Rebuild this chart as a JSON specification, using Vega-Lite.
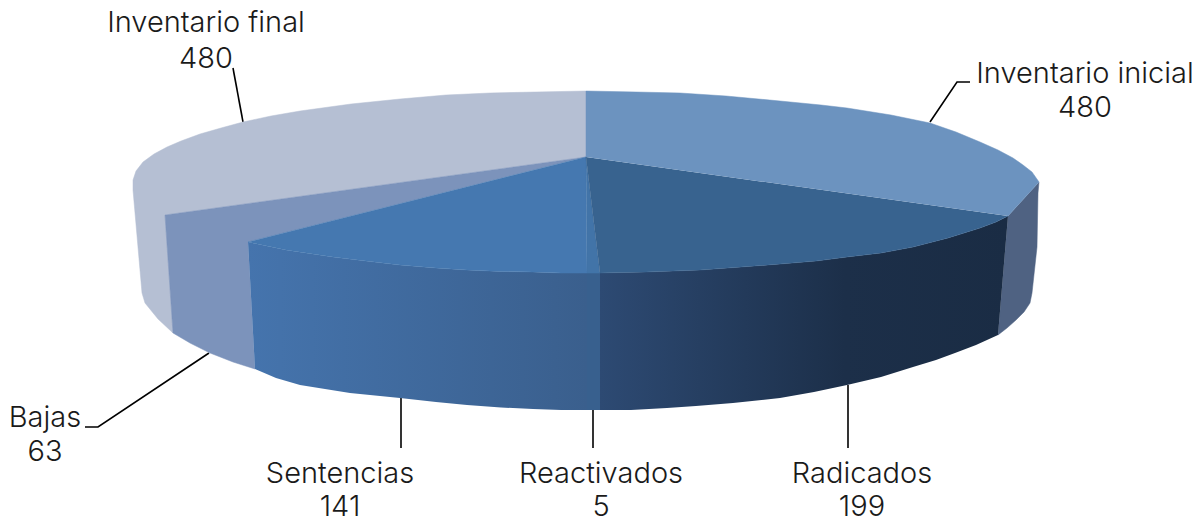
{
"$schema":"https://vega.github.io/schema/vega-lite/v6.json",
"width":1202,"height":522,"padding":0,"autosize":{"type":"none"},
"background":"white",
"config":{"view":{"stroke":null}},
"datasets":{
"slices":[
{"slice":"Inventario inicial","value":480,"xc":499,"yName":-99,"yValue":-65},
{"slice":"Radicados","value":199,"xc":276,"yName":301,"yValue":334},
{"slice":"Reactivados","value":5,"xc":15,"yName":301,"yValue":334},
{"slice":"Sentencias","value":141,"xc":-246,"yName":301,"yValue":334},
{"slice":"Bajas","value":63,"xc":-541,"yName":245,"yValue":279},
{"slice":"Inventario final","value":480,"xc":-380,"yName":-150,"yValue":-114}
],
"leaders":[
{"slice":"Inventario final","i":0,"x":-353,"y":-114},{"slice":"Inventario final","i":1,"x":-343,"y":-60},
{"slice":"Inventario inicial","i":0,"x":384,"y":-100},{"slice":"Inventario inicial","i":1,"x":371,"y":-100},{"slice":"Inventario inicial","i":2,"x":344,"y":-60},
{"slice":"Bajas","i":0,"x":-501,"y":245},{"slice":"Bajas","i":1,"x":-488,"y":245},{"slice":"Bajas","i":2,"x":-377,"y":171},
{"slice":"Sentencias","i":0,"x":-185,"y":216},{"slice":"Sentencias","i":1,"x":-185,"y":266},
{"slice":"Reactivados","i":0,"x":7,"y":227},{"slice":"Reactivados","i":1,"x":7,"y":266},
{"slice":"Radicados","i":0,"x":262,"y":203},{"slice":"Radicados","i":1,"x":262,"y":266}
],
"outline":[
{"part":"finalFace","i":0,"x":0,"y":-25},{"part":"finalFace","i":1,"x":0,"y":-91},{"part":"finalFace","i":2,"x":-50,"y":-90},{"part":"finalFace","i":3,"x":-96,"y":-89},{"part":"finalFace","i":4,"x":-140,"y":-87},{"part":"finalFace","i":5,"x":-186,"y":-83},{"part":"finalFace","i":6,"x":-235,"y":-78},{"part":"finalFace","i":7,"x":-286,"y":-71},{"part":"finalFace","i":8,"x":-315,"y":-66},{"part":"finalFace","i":9,"x":-343,"y":-60},{"part":"finalFace","i":10,"x":-365,"y":-54},{"part":"finalFace","i":11,"x":-386,"y":-48},{"part":"finalFace","i":12,"x":-405,"y":-41},{"part":"finalFace","i":13,"x":-419,"y":-35},{"part":"finalFace","i":14,"x":-432,"y":-28},{"part":"finalFace","i":15,"x":-443,"y":-20},{"part":"finalFace","i":16,"x":-450,"y":-11},{"part":"finalFace","i":17,"x":-453,"y":-2},{"part":"finalFace","i":18,"x":-453,"y":8},{"part":"finalFace","i":19,"x":-444,"y":111},{"part":"finalFace","i":20,"x":-441,"y":121},{"part":"finalFace","i":21,"x":-428,"y":137},{"part":"finalFace","i":22,"x":-413,"y":151},{"part":"finalFace","i":23,"x":-421,"y":33},
{"part":"bajas","i":0,"x":0,"y":-25},{"part":"bajas","i":1,"x":-421,"y":33},{"part":"bajas","i":2,"x":-413,"y":151},{"part":"bajas","i":3,"x":-396,"y":161},{"part":"bajas","i":4,"x":-376,"y":171},{"part":"bajas","i":5,"x":-353,"y":180},{"part":"bajas","i":6,"x":-331,"y":187},{"part":"bajas","i":7,"x":-338,"y":60},
{"part":"sentWall","i":0,"x":-338,"y":60},{"part":"sentWall","i":1,"x":-300,"y":68},{"part":"sentWall","i":2,"x":-253,"y":75},{"part":"sentWall","i":3,"x":-220,"y":79},{"part":"sentWall","i":4,"x":-186,"y":83},{"part":"sentWall","i":5,"x":-150,"y":86},{"part":"sentWall","i":6,"x":-119,"y":88},{"part":"sentWall","i":7,"x":-85,"y":89.5},{"part":"sentWall","i":8,"x":-53,"y":90},{"part":"sentWall","i":9,"x":-25,"y":91},{"part":"sentWall","i":10,"x":1,"y":91},{"part":"sentWall","i":11,"x":1,"y":228},{"part":"sentWall","i":12,"x":-25,"y":228},{"part":"sentWall","i":13,"x":-53,"y":227},{"part":"sentWall","i":14,"x":-85,"y":225.5},{"part":"sentWall","i":15,"x":-119,"y":223},{"part":"sentWall","i":16,"x":-150,"y":220},{"part":"sentWall","i":17,"x":-186,"y":216},{"part":"sentWall","i":18,"x":-236,"y":211},{"part":"sentWall","i":19,"x":-286,"y":203},{"part":"sentWall","i":20,"x":-310,"y":196},{"part":"sentWall","i":21,"x":-331,"y":187},
{"part":"sentFace","i":0,"x":0,"y":-25},{"part":"sentFace","i":1,"x":-338,"y":60},{"part":"sentFace","i":2,"x":-300,"y":68},{"part":"sentFace","i":3,"x":-253,"y":75},{"part":"sentFace","i":4,"x":-220,"y":79},{"part":"sentFace","i":5,"x":-186,"y":83},{"part":"sentFace","i":6,"x":-150,"y":86},{"part":"sentFace","i":7,"x":-119,"y":88},{"part":"sentFace","i":8,"x":-85,"y":89.5},{"part":"sentFace","i":9,"x":-53,"y":90},{"part":"sentFace","i":10,"x":-25,"y":91},{"part":"sentFace","i":11,"x":1,"y":91},
{"part":"reacWall","i":0,"x":1,"y":91},{"part":"reacWall","i":1,"x":14,"y":91},{"part":"reacWall","i":2,"x":14,"y":228},{"part":"reacWall","i":3,"x":1,"y":228},
{"part":"reacFace","i":0,"x":0,"y":-25},{"part":"reacFace","i":1,"x":1,"y":91},{"part":"reacFace","i":2,"x":14,"y":91},
{"part":"radWall","i":0,"x":14,"y":91},{"part":"radWall","i":1,"x":60,"y":90},{"part":"radWall","i":2,"x":114,"y":88},{"part":"radWall","i":3,"x":155,"y":85},{"part":"radWall","i":4,"x":194,"y":82},{"part":"radWall","i":5,"x":230,"y":79},{"part":"radWall","i":6,"x":261,"y":75},{"part":"radWall","i":7,"x":295,"y":71},{"part":"radWall","i":8,"x":327,"y":65},{"part":"radWall","i":9,"x":362,"y":56},{"part":"radWall","i":10,"x":394,"y":46},{"part":"radWall","i":11,"x":410,"y":40},{"part":"radWall","i":12,"x":422,"y":34},{"part":"radWall","i":13,"x":412,"y":153},{"part":"radWall","i":14,"x":390,"y":163},{"part":"radWall","i":15,"x":369,"y":171},{"part":"radWall","i":16,"x":350,"y":178},{"part":"radWall","i":17,"x":327,"y":185},{"part":"radWall","i":18,"x":295,"y":195},{"part":"radWall","i":19,"x":261,"y":203},{"part":"radWall","i":20,"x":228,"y":210},{"part":"radWall","i":21,"x":194,"y":216},{"part":"radWall","i":22,"x":147,"y":221},{"part":"radWall","i":23,"x":110,"y":224},{"part":"radWall","i":24,"x":81,"y":226},{"part":"radWall","i":25,"x":45,"y":228},{"part":"radWall","i":26,"x":14,"y":228},
{"part":"radFace","i":0,"x":0,"y":-25},{"part":"radFace","i":1,"x":14,"y":91},{"part":"radFace","i":2,"x":60,"y":90},{"part":"radFace","i":3,"x":114,"y":88},{"part":"radFace","i":4,"x":155,"y":85},{"part":"radFace","i":5,"x":194,"y":82},{"part":"radFace","i":6,"x":230,"y":79},{"part":"radFace","i":7,"x":261,"y":75},{"part":"radFace","i":8,"x":295,"y":71},{"part":"radFace","i":9,"x":327,"y":65},{"part":"radFace","i":10,"x":362,"y":56},{"part":"radFace","i":11,"x":394,"y":46},{"part":"radFace","i":12,"x":410,"y":40},{"part":"radFace","i":13,"x":422,"y":34},
{"part":"iniWall","i":0,"x":453,"y":0},{"part":"iniWall","i":1,"x":452,"y":11},{"part":"iniWall","i":2,"x":451,"y":65},{"part":"iniWall","i":3,"x":446,"y":111},{"part":"iniWall","i":4,"x":444,"y":121},{"part":"iniWall","i":5,"x":438,"y":130},{"part":"iniWall","i":6,"x":430,"y":138},{"part":"iniWall","i":7,"x":421,"y":146},{"part":"iniWall","i":8,"x":412,"y":153},{"part":"iniWall","i":9,"x":422,"y":34},
{"part":"iniFace","i":0,"x":0,"y":-25},{"part":"iniFace","i":1,"x":0,"y":-91},{"part":"iniFace","i":2,"x":50,"y":-90},{"part":"iniFace","i":3,"x":94,"y":-89},{"part":"iniFace","i":4,"x":140,"y":-86},{"part":"iniFace","i":5,"x":194,"y":-81},{"part":"iniFace","i":6,"x":235,"y":-77},{"part":"iniFace","i":7,"x":261,"y":-74},{"part":"iniFace","i":8,"x":305,"y":-67},{"part":"iniFace","i":9,"x":344,"y":-59},{"part":"iniFace","i":10,"x":370,"y":-50},{"part":"iniFace","i":11,"x":394,"y":-40},{"part":"iniFace","i":12,"x":412,"y":-32},{"part":"iniFace","i":13,"x":427,"y":-24},{"part":"iniFace","i":14,"x":437,"y":-17},{"part":"iniFace","i":15,"x":446,"y":-10},{"part":"iniFace","i":16,"x":453,"y":0},{"part":"iniFace","i":17,"x":422,"y":34}
]},
"encoding":{
"x":{"field":"x","type":"quantitative","scale":{"domain":[-586,616]},"axis":null},
"y":{"field":"y","type":"quantitative","scale":{"domain":[-182,340],"reverse":true},"axis":null}
},
"layer":[
{"data":{"name":"leaders"},"mark":{"type":"line","stroke":"#000000","strokeWidth":1.6},"encoding":{"detail":{"field":"slice"},"order":{"field":"i","type":"quantitative"}}},
{"data":{"name":"outline"},"transform":[{"filter":"datum.part=='finalFace'"}],"mark":{"type":"line","fill":"#b5bfd3","stroke":"#b5bfd3","strokeWidth":0.5},"encoding":{"order":{"field":"i","type":"quantitative"}}},
{"data":{"name":"outline"},"transform":[{"filter":"datum.part=='bajas'"}],"mark":{"type":"line","fill":"#7c93bb","stroke":"#7c93bb","strokeWidth":0.5},"encoding":{"order":{"field":"i","type":"quantitative"}}},
{"data":{"name":"outline"},"transform":[{"filter":"datum.part=='iniWall'"}],"mark":{"type":"line","fill":"#4f6282","stroke":"#4f6282","strokeWidth":0.5},"encoding":{"order":{"field":"i","type":"quantitative"}}},
{"data":{"name":"outline"},"transform":[{"filter":"datum.part=='sentWall'"}],"mark":{"type":"line","fill":{"gradient":"linear","x1":0,"y1":0,"x2":1,"y2":0,"stops":[{"offset":0,"color":"#4574ad"},{"offset":1,"color":"#3a5f8d"}]},"strokeWidth":0},"encoding":{"order":{"field":"i","type":"quantitative"}}},
{"data":{"name":"outline"},"transform":[{"filter":"datum.part=='reacWall'"}],"mark":{"type":"line","fill":"#38608e","strokeWidth":0},"encoding":{"order":{"field":"i","type":"quantitative"}}},
{"data":{"name":"outline"},"transform":[{"filter":"datum.part=='radWall'"}],"mark":{"type":"line","fill":{"gradient":"linear","x1":0,"y1":0,"x2":1,"y2":0,"stops":[{"offset":0,"color":"#2d4a73"},{"offset":0.6,"color":"#1c2f49"},{"offset":1,"color":"#1a2c44"}]},"strokeWidth":0},"encoding":{"order":{"field":"i","type":"quantitative"}}},
{"data":{"name":"outline"},"transform":[{"filter":"datum.part=='sentFace'"}],"mark":{"type":"line","fill":"#4578b0","stroke":"#4578b0","strokeWidth":0.5},"encoding":{"order":{"field":"i","type":"quantitative"}}},
{"data":{"name":"outline"},"transform":[{"filter":"datum.part=='reacFace'"}],"mark":{"type":"line","fill":"#4274a8","stroke":"#4274a8","strokeWidth":0.5},"encoding":{"order":{"field":"i","type":"quantitative"}}},
{"data":{"name":"outline"},"transform":[{"filter":"datum.part=='radFace'"}],"mark":{"type":"line","fill":"#38638f","stroke":"#38638f","strokeWidth":0.5},"encoding":{"order":{"field":"i","type":"quantitative"}}},
{"data":{"name":"outline"},"transform":[{"filter":"datum.part=='iniFace'"}],"mark":{"type":"line","fill":"#6c93bf","stroke":"#6c93bf","strokeWidth":0.5},"encoding":{"order":{"field":"i","type":"quantitative"}}},
{"data":{"name":"slices"},"mark":{"type":"text","font":"Inter","fontSize":29,"fontWeight":300,"align":"center","baseline":"alphabetic","color":"#1a1a1a"},"encoding":{"x":{"field":"xc","type":"quantitative"},"y":{"field":"yName","type":"quantitative"},"text":{"field":"slice"}}},
{"data":{"name":"slices"},"mark":{"type":"text","font":"Inter","fontSize":29,"fontWeight":300,"align":"center","baseline":"alphabetic","color":"#1a1a1a"},"encoding":{"x":{"field":"xc","type":"quantitative"},"y":{"field":"yValue","type":"quantitative"},"text":{"field":"value","type":"quantitative"}}}
]
}
